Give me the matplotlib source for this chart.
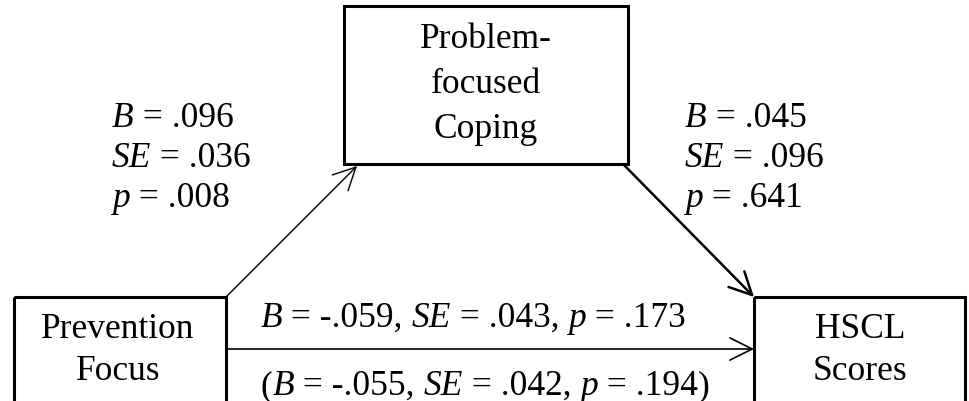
import matplotlib.pyplot as plt
from matplotlib.patches import Rectangle

plt.rcParams['font.family'] = ['Liberation Serif', 'DejaVu Serif']

# node labels
x_label = ['Prevention', 'Focus']
m_label = ['Problem-', 'focused', 'Coping']
y_label = ['HSCL', 'Scores']

# path coefficients: a path, b path, direct (c'), total (c)
path_names = ['a', 'b', 'c_prime', 'c']
B_vals = ['.096', '.045', '-.059', '-.055']
SE_vals = ['.036', '.096', '.043', '.042']
p_vals = ['.008', '.641', '.173', '.194']

fs = 25.5

fig = plt.figure(figsize=(9.69, 4.02), dpi=100)
ax = fig.add_axes([0, 0, 1, 1])
ax.set_xlim(0, 969)
ax.set_ylim(402, 0)
ax.axis('off')
renderer = fig.canvas.get_renderer()


def rich_text(x, y, segments, ha='left'):
    # segments: list of (text, italic); drawn side by side on one baseline
    objs = []
    for s, it in segments:
        t = ax.text(0, y, s, fontsize=fs, va='baseline', ha='left',
                    style='italic' if it else 'normal')
        objs.append(t)
    widths = [t.get_window_extent(renderer).width for t in objs]
    total = sum(widths)
    x0 = x - total / 2 if ha == 'center' else x
    for t, w in zip(objs, widths):
        t.set_x(x0)
        x0 += w


def coef_lines(i):
    return [[('B', True), (' = ' + B_vals[i], False)],
            [('SE', True), (' = ' + SE_vals[i], False)],
            [('p', True), (' = ' + p_vals[i], False)]]


def coef_inline(i):
    return [('B', True), (' = ' + B_vals[i] + ', ', False),
            ('SE', True), (' = ' + SE_vals[i] + ', ', False),
            ('p', True), (' = ' + p_vals[i], False)]


box_kw = dict(fill=False, edgecolor='black', linewidth=2.2)

# boxes (left/right run off the bottom edge)
ax.add_patch(Rectangle((14, 298), 212, 140, **box_kw))
ax.add_patch(Rectangle((344, 7), 284, 158, **box_kw))
ax.add_patch(Rectangle((754, 298), 211, 140, **box_kw))

for lab, yb in zip(x_label, [338, 380]):
    ax.text(118, yb, lab, ha='center', va='baseline', fontsize=fs)
for lab, yb in zip(m_label, [48, 93, 138]):
    ax.text(486, yb, lab, ha='center', va='baseline', fontsize=fs)
for lab, yb in zip(y_label, [338, 380]):
    ax.text(860, yb, lab, ha='center', va='baseline', fontsize=fs)

arrow_kw = dict(arrowstyle='->', color='black', shrinkA=0, shrinkB=0,
                mutation_scale=40)
ax.annotate('', xy=(357, 167), xytext=(226, 298),
            arrowprops=dict(lw=1.0, **arrow_kw))
ax.annotate('', xy=(754, 298), xytext=(624, 166),
            arrowprops=dict(lw=1.8, **arrow_kw))
ax.annotate('', xy=(754, 350), xytext=(226, 350),
            arrowprops=dict(lw=1.2, **arrow_kw))

for segs, yb in zip(coef_lines(0), [127, 167, 207]):
    rich_text(112, yb, segs)
for segs, yb in zip(coef_lines(1), [127, 167, 207]):
    rich_text(685, yb, segs)

rich_text(473, 327, coef_inline(2), ha='center')
rich_text(485, 395, [('(', False)] + coef_inline(3) + [(')', False)], ha='center')

fig.savefig('out.png', dpi=100)
